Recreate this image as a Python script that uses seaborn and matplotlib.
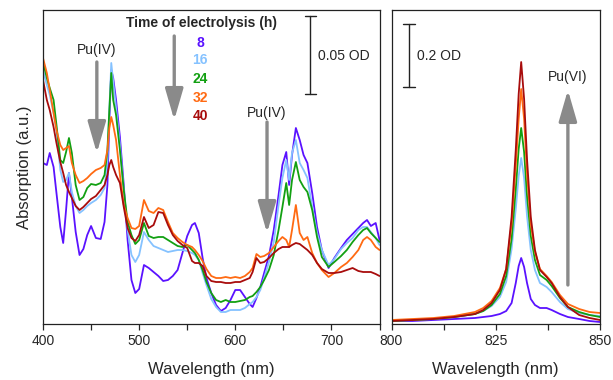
import numpy as np
import pandas as pd
import matplotlib
matplotlib.use("Agg")
import matplotlib.pyplot as plt
import seaborn as sns

# ---------------- data (absorbance, arbitrary units) ----------------
times = ["8", "16", "24", "32", "40"]
colors = ["#5a12ff", "#85c2ff", "#12a012", "#ff6a12", "#a80c0c"]

wl_vis = [400, 404, 407, 411, 414, 418, 421, 424, 427, 430, 434, 438, 442, 446, 450,
          455, 460, 464, 467, 469, 471, 473, 476, 480, 484, 488, 492, 496, 500, 505,
          510, 515, 520, 525, 530, 535, 540, 545, 550, 555, 558, 562, 566, 570, 575,
          580, 585, 590, 595, 600, 605, 610, 615, 618, 622, 626, 630, 635, 640, 645,
          649, 653, 656, 659, 663, 667, 671, 675, 680, 685, 690, 697, 703, 710, 716,
          722, 728, 733, 737, 741, 746, 750]

abs_8h = [161, 159, 171, 157, 131, 97, 81, 114, 151, 127, 92, 69, 75, 89, 98,
          86, 85, 102, 139, 204, 254, 246, 224, 187, 139, 84, 44, 31, 35, 59,
          56, 52, 48, 43, 44, 48, 54, 71, 88, 99, 101, 91, 66, 46, 31,
          19, 13, 16, 24, 34, 34, 27, 20, 17, 26, 37, 51, 68, 94, 129,
          159, 172, 139, 169, 196, 184, 169, 161, 131, 97, 74, 56, 66, 76, 84,
          90, 96, 101, 104, 98, 101, 84]
abs_16h = [254, 239, 229, 211, 194, 154, 142, 144, 151, 132, 118, 111, 114, 118, 121,
           124, 129, 136, 164, 214, 261, 242, 216, 179, 134, 94, 69, 62, 69, 92,
           84, 78, 76, 74, 72, 73, 74, 74, 73, 71, 69, 64, 51, 39, 25,
           17, 12, 12, 14, 14, 14, 16, 20, 22, 27, 34, 46, 62, 82, 119,
           146, 164, 144, 171, 184, 161, 154, 146, 117, 91, 74, 59, 65, 75, 81,
           86, 94, 97, 97, 92, 86, 79]
abs_24h = [262, 246, 236, 224, 199, 164, 161, 172, 186, 171, 139, 124, 127, 136, 140,
           139, 141, 149, 174, 214, 251, 224, 209, 174, 134, 102, 89, 80, 84, 101,
           88, 86, 87, 87, 84, 81, 78, 77, 79, 74, 71, 64, 54, 42, 31,
           24, 22, 24, 22, 22, 23, 24, 27, 28, 32, 37, 44, 54, 69, 94,
           117, 141, 119, 144, 162, 144, 137, 132, 114, 87, 67, 57, 62, 68, 74,
           82, 89, 94, 96, 91, 86, 82]
abs_32h = [266, 251, 234, 211, 194, 179, 174, 176, 178, 161, 149, 141, 143, 146, 150,
           154, 156, 159, 174, 196, 207, 199, 184, 149, 119, 106, 96, 95, 98, 124,
           113, 111, 116, 114, 102, 91, 86, 82, 79, 77, 74, 69, 63, 55, 48,
           46, 46, 47, 46, 47, 46, 48, 52, 56, 70, 67, 68, 71, 77, 83,
           87, 84, 77, 94, 119, 91, 84, 87, 71, 61, 54, 47, 51, 57, 61,
           67, 74, 84, 87, 84, 77, 74]
abs_40h = [244, 224, 214, 197, 181, 162, 151, 139, 132, 126, 118, 114, 117, 121, 125,
           128, 134, 139, 149, 159, 164, 157, 149, 141, 117, 96, 86, 83, 89, 107,
           96, 99, 112, 111, 99, 89, 83, 79, 76, 63, 61, 61, 58, 48, 43,
           42, 42, 41, 41, 42, 42, 44, 46, 52, 66, 61, 62, 66, 71, 75,
           77, 77, 77, 79, 81, 80, 77, 74, 69, 61, 55, 51, 51, 52, 54,
           56, 53, 52, 52, 52, 50, 48]

wl_nir = [800, 805, 810, 815, 820, 822, 824, 826, 827.5, 828.8, 829.8, 830.5, 831.1,
          831.8, 832.5, 833.4, 834.4, 835.6, 837.2, 838.4, 840.4, 842.3, 845, 847.5, 850]
nir_8h = [3, 3, 4, 5, 6, 7, 8, 10, 13, 21, 41, 58, 66, 57, 41, 25, 19, 16, 16, 14, 10, 7, 5, 3, 2]
nir_16h = [3, 4, 5, 7, 10, 13, 18, 27, 42, 75, 115, 148, 166, 146, 108, 74, 54, 41, 37, 32, 22, 15, 11, 9, 8]
nir_24h = [3, 4, 5, 7, 10, 13, 19, 30, 48, 85, 135, 175, 196, 172, 128, 88, 64, 49, 44, 38, 26, 17, 12, 9, 7]
nir_32h = [4, 5, 6, 8, 12, 16, 23, 36, 55, 100, 158, 205, 235, 205, 150, 100, 72, 55, 48, 42, 29, 20, 15, 12, 11]
nir_40h = [3, 4, 5, 7, 10, 14, 21, 34, 55, 107, 174, 230, 262, 225, 165, 107, 74, 54, 47, 41, 27, 17, 9, 6, 4]

vis_series = [abs_8h, abs_16h, abs_24h, abs_32h, abs_40h]
nir_series = [nir_8h, nir_16h, nir_24h, nir_32h, nir_40h]

df_vis = pd.concat([pd.DataFrame({"wl": wl_vis, "A": v, "t": t}) for v, t in zip(vis_series, times)])
df_nir = pd.concat([pd.DataFrame({"wl": wl_nir, "A": v, "t": t}) for v, t in zip(nir_series, times)])

# ---------------- style ----------------
sns.set_style("ticks")
plt.rcParams["font.family"] = ["Liberation Sans", "DejaVu Sans"]
plt.rcParams["axes.linewidth"] = 0.9
plt.rcParams["xtick.major.width"] = 0.9
plt.rcParams["xtick.minor.width"] = 0.9

fig = plt.figure(figsize=(6.13, 3.80), dpi=100)
ax1 = fig.add_axes([43 / 613, 1 - 324 / 380, (380 - 43) / 613, 314 / 380])
ax2 = fig.add_axes([391.5 / 613, 1 - 324 / 380, (600 - 391.5) / 613, 314 / 380])

pal = dict(zip(times, colors))
sns.lineplot(data=df_vis, x="wl", y="A", hue="t", palette=pal, ax=ax1,
             legend=False, linewidth=1.3, estimator=None, sort=False)
sns.lineplot(data=df_nir, x="wl", y="A", hue="t", palette=pal, ax=ax2,
             legend=False, linewidth=1.3, estimator=None, sort=False)

for ax in (ax1, ax2):
    for s in ax.spines.values():
        s.set_visible(True)
        s.set_color("#222222")
    ax.set_yticks([])
    ax.set_ylim(0, 314)
    ax.tick_params(axis="x", which="major", length=4, labelsize=10, direction="out", pad=3)
    ax.tick_params(axis="x", which="minor", length=4, direction="out")
    ax.set_xlabel("Wavelength (nm)", fontsize=12, labelpad=10)
    ax.set_ylabel("")

ax1.set_xlim(400, 750.5)
ax1.set_xticks([400, 500, 600, 700])
ax1.set_xticks([450, 550, 650, 750], minor=True)
ax1.set_ylabel("Absorption (a.u.)", fontsize=12, labelpad=8)

ax2.set_xlim(800, 850)
ax2.set_xticks([800, 825, 850])
ax2.set_xticks([812.5, 837.5], minor=True)

gray = "#8a8a8a"

def arrow(ax, x, y0, y1):
    ax.annotate("", xy=(x, y1), xytext=(x, y0),
                arrowprops=dict(arrowstyle="-|>,head_width=0.55,head_length=1.9",
                                color=gray, lw=2.4, mutation_scale=10,
                                shrinkA=0, shrinkB=0))

# left panel annotations
ax1.text(564.5, 301, "Time of electrolysis (h)", fontsize=10, fontweight="bold",
         ha="center", va="center")
for t, c, h in zip(times, colors, [281, 264, 245, 226, 208]):
    ax1.text(563.5, h, t, fontsize=10, fontweight="bold", color=c, ha="center", va="center")
arrow(ax1, 536.5, 288, 204)

ax1.text(456, 274, "Pu(IV)", fontsize=10, ha="center", va="center")
arrow(ax1, 456, 262, 171)
ax1.text(633, 211, "Pu(IV)", fontsize=10, ha="center", va="center")
arrow(ax1, 633, 202, 91)

# 0.05 OD scale bar
ax1.plot([678, 678], [230, 308], color="#222222", lw=1.0)
ax1.plot([672, 684], [308, 308], color="#222222", lw=1.0)
ax1.plot([672, 684], [230, 230], color="#222222", lw=1.0)
ax1.text(685.5, 268, "0.05 OD", fontsize=10, ha="left", va="center")

# right panel annotations
ax2.plot([804.2, 804.2], [237, 300], color="#222222", lw=1.0)
ax2.plot([802.8, 805.6], [300, 300], color="#222222", lw=1.0)
ax2.plot([802.8, 805.6], [237, 237], color="#222222", lw=1.0)
ax2.text(806, 268, "0.2 OD", fontsize=10, ha="left", va="center")
ax2.text(842.3, 247, "Pu(VI)", fontsize=10, ha="center", va="center")
arrow(ax2, 842.3, 39, 234)

fig.savefig("out.png", dpi=100)
